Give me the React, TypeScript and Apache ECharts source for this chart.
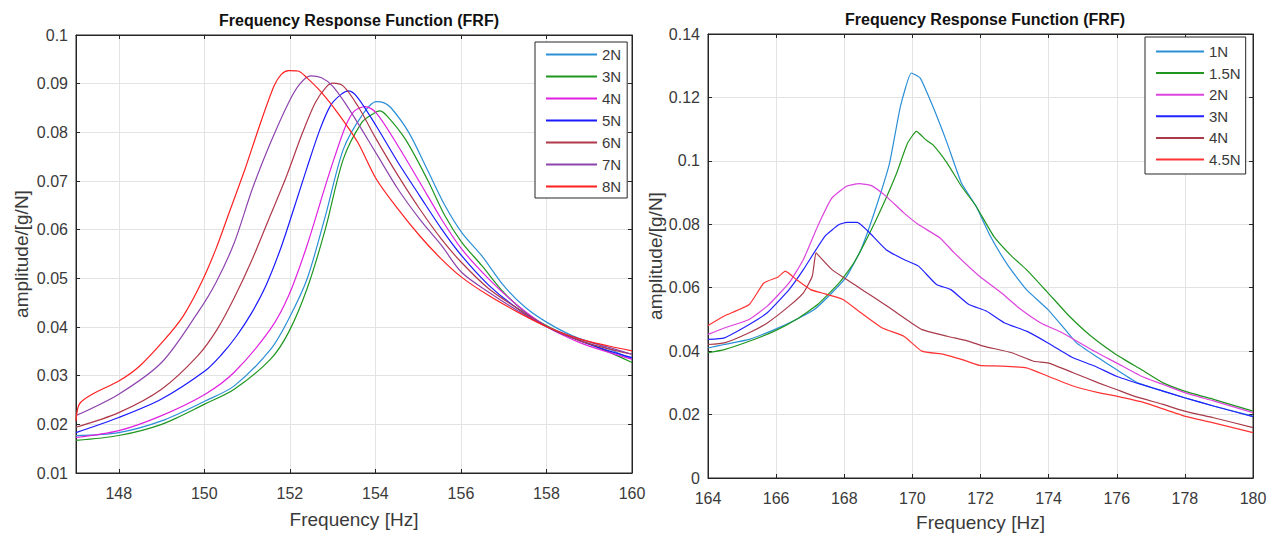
import React, { useEffect, useRef } from "react";
import * as echarts from "echarts";

const FONT = 'Arial, "Liberation Sans", Helvetica, sans-serif';

// ---------- Left plot data (Frequency [Hz], amplitude [g/N]) ----------
const LEFT_NAMES = ["2N", "3N", "4N", "5N", "6N", "7N", "8N"];
const LEFT_COLORS = ["#2b8fd6", "#1f961f", "#e020e0", "#1a1aff", "#b0384a", "#8e44ad", "#ff2020"];
const L_2N = [[147,0.0177],[148,0.0183],[149,0.0207],[150.02,0.0248],[150.7,0.0279],[151.55,0.0354],[151.97,0.0416],[152.4,0.0498],[152.83,0.0628],[153.25,0.0765],[153.68,0.0834],[154.02,0.0863],[154.19,0.0861],[154.36,0.0851],[154.78,0.08],[155.21,0.0724],[155.63,0.0649],[156.02,0.0594],[156.49,0.0546],[157.0,0.0485],[157.51,0.044],[158.02,0.0409],[158.61,0.0382],[159.29,0.0361],[160,0.0334]];
const L_3N = [[147,0.0167],[148,0.0177],[149,0.02],[150.02,0.0242],[150.7,0.0272],[151.55,0.0334],[151.97,0.0389],[152.4,0.0478],[152.83,0.0601],[153.25,0.0745],[153.68,0.082],[153.93,0.0837],[154.1,0.0844],[154.27,0.0834],[154.7,0.0786],[155.21,0.0704],[155.63,0.0628],[156.02,0.0574],[156.49,0.0526],[157.0,0.0471],[157.51,0.043],[158.02,0.0402],[158.61,0.0378],[159.29,0.0355],[160,0.0327]];
const L_4N = [[147,0.0173],[148,0.0187],[149,0.0218],[150.02,0.0262],[150.7,0.0307],[151.55,0.0396],[151.97,0.0464],[152.4,0.0567],[152.83,0.069],[153.05,0.075],[153.3,0.0812],[153.5,0.0843],[153.76,0.0853],[154.02,0.084],[154.53,0.0772],[155.04,0.0697],[155.55,0.0621],[156.02,0.056],[156.66,0.0498],[157.34,0.0443],[158.02,0.04],[158.78,0.0368],[159.46,0.0348],[160,0.0334]];
const L_5N = [[147,0.0183],[148,0.0214],[149,0.0252],[150.02,0.031],[150.4,0.0343],[150.75,0.0381],[151.1,0.0428],[151.45,0.0487],[151.8,0.0565],[152.1,0.0645],[152.4,0.0727],[152.7,0.0805],[152.95,0.0855],[153.2,0.0878],[153.38,0.0885],[153.59,0.0871],[154.02,0.0813],[154.53,0.0738],[155.04,0.0669],[155.55,0.0601],[156.02,0.0546],[156.66,0.0485],[157.34,0.0437],[158.02,0.04],[158.78,0.0372],[159.46,0.0351],[160,0.0337]];
const L_6N = [[147,0.0194],[148,0.0224],[149,0.0272],[149.85,0.0341],[150.3,0.0395],[150.7,0.046],[151.1,0.0535],[151.5,0.062],[151.9,0.0705],[152.3,0.08],[152.6,0.0862],[152.85,0.0893],[153.0,0.0901],[153.25,0.0895],[153.59,0.0854],[154.02,0.0786],[154.53,0.0711],[155.04,0.0642],[155.55,0.058],[156.02,0.0532],[156.66,0.0478],[157.34,0.0437],[158.02,0.04],[158.78,0.0372],[159.46,0.0355],[160,0.0344]];
const L_7N = [[147,0.0218],[148,0.0262],[149,0.0327],[149.85,0.043],[150.27,0.0491],[150.7,0.0573],[151.12,0.0683],[151.55,0.0779],[151.97,0.0861],[152.23,0.0899],[152.49,0.0916],[152.74,0.0912],[153.0,0.0895],[153.34,0.0854],[153.68,0.0806],[154.1,0.0745],[154.53,0.0683],[155.04,0.0621],[155.55,0.0567],[156.02,0.0512],[156.66,0.0471],[157.34,0.0433],[158.02,0.04],[158.78,0.0375],[159.46,0.0358],[160,0.0344]];
const L_8N = [[147,0.0207],[147.08,0.0242],[147.38,0.0262],[148,0.0289],[148.49,0.032],[149.08,0.0375],[149.51,0.0423],[149.93,0.0491],[150.27,0.056],[150.61,0.0642],[150.95,0.0724],[151.29,0.0813],[151.63,0.0895],[151.8,0.0919],[151.97,0.0927],[152.19,0.0926],[152.4,0.0912],[152.74,0.0882],[153.17,0.0834],[153.59,0.0779],[154.02,0.0704],[154.53,0.0642],[155.04,0.0587],[155.55,0.0539],[156.02,0.0502],[156.66,0.0464],[157.34,0.043],[158.02,0.04],[158.78,0.0375],[159.46,0.0361],[160,0.0351]];
const LEFT_DATA = [L_2N, L_3N, L_4N, L_5N, L_6N, L_7N, L_8N];
const LEFT_X_TICKS = [148, 150, 152, 154, 156, 158, 160];

// ---------- Right plot data ----------
const RIGHT_NAMES = ["1N", "1.5N", "2N", "3N", "4N", "4.5N"];
const RIGHT_COLORS = ["#2b8fd6", "#1f961f", "#dd44dd", "#2222ff", "#a83a4a", "#ff3333"];
const R_1N = [[164,0.041],[164.48,0.0421],[165.21,0.0437],[165.95,0.0468],[166.59,0.05],[167.12,0.0531],[167.64,0.0584],[168.07,0.0636],[168.49,0.072],[168.91,0.0846],[169.33,0.0993],[169.65,0.1172],[169.97,0.1277],[170.23,0.1261],[170.6,0.1172],[171.02,0.1056],[171.44,0.093],[171.87,0.0857],[172.29,0.0762],[172.82,0.0668],[173.35,0.0594],[173.98,0.0531],[174.4,0.0479],[174.82,0.0426],[175.46,0.0379],[175.99,0.0342],[176.62,0.03],[177.36,0.0274],[177.99,0.0253],[178.84,0.0227],[180,0.0195]];
const R_15N = [[164,0.0395],[164.48,0.0405],[165.21,0.0431],[165.95,0.0463],[166.59,0.05],[167.22,0.0547],[167.85,0.0615],[168.28,0.0678],[168.7,0.0762],[169.12,0.0857],[169.54,0.0962],[169.86,0.1056],[170.12,0.1093],[170.39,0.1067],[170.6,0.1051],[171.02,0.0993],[171.44,0.092],[171.87,0.0857],[172.39,0.0762],[172.92,0.0699],[173.35,0.0657],[173.98,0.0584],[174.61,0.051],[175.25,0.0447],[175.99,0.0389],[176.72,0.0342],[177.36,0.03],[177.99,0.0274],[178.84,0.0248],[180,0.0211]];
const R_2N = [[164,0.0453],[164.48,0.0473],[165.21,0.05],[165.74,0.0542],[166.38,0.0615],[166.8,0.0689],[167.22,0.0794],[167.64,0.0883],[168.07,0.092],[168.44,0.0928],[168.8,0.0922],[169.23,0.0888],[169.75,0.0836],[170.18,0.0799],[170.81,0.0757],[171.23,0.071],[171.97,0.0636],[172.61,0.0584],[173.13,0.0536],[173.77,0.0489],[174.4,0.0458],[175.25,0.0405],[175.99,0.0363],[176.72,0.0321],[177.36,0.0295],[177.99,0.0269],[178.84,0.0243],[180,0.0206]];
const R_3N = [[164,0.0437],[164.48,0.0442],[165.21,0.0484],[165.74,0.0521],[166.38,0.0594],[166.8,0.0657],[167.43,0.0762],[167.85,0.0799],[168.07,0.0806],[168.38,0.0806],[168.7,0.0778],[169.23,0.072],[169.75,0.0689],[170.18,0.0668],[170.71,0.061],[171.13,0.0594],[171.66,0.0547],[172.18,0.0526],[172.71,0.0489],[173.35,0.0463],[173.98,0.0426],[174.72,0.0379],[175.35,0.0353],[175.99,0.0321],[176.72,0.0295],[177.36,0.0274],[177.99,0.0253],[178.84,0.0227],[180,0.0193]];
const R_4N = [[164,0.0421],[164.48,0.0426],[165.21,0.0458],[165.74,0.0489],[166.38,0.0542],[166.8,0.0584],[167.06,0.0636],[167.17,0.071],[167.27,0.0699],[167.64,0.0657],[168.07,0.0626],[168.59,0.0589],[169.12,0.0552],[169.54,0.0521],[169.97,0.0489],[170.28,0.0468],[171.02,0.0447],[171.66,0.0431],[172.08,0.0416],[172.92,0.0395],[173.56,0.0368],[173.98,0.0363],[174.72,0.0332],[175.46,0.03],[175.99,0.0279],[176.51,0.0258],[177.36,0.0232],[177.99,0.0211],[178.84,0.019],[180,0.0159]];
const R_45N = [[164,0.0481],[164.48,0.0511],[165.21,0.0547],[165.64,0.0615],[166.06,0.0634],[166.27,0.0652],[166.59,0.0626],[167.01,0.0594],[167.33,0.0584],[167.96,0.0563],[168.49,0.0521],[169.12,0.0473],[169.75,0.0447],[170.28,0.04],[170.92,0.039],[171.44,0.0374],[171.97,0.0355],[172.61,0.0353],[173.35,0.0347],[173.98,0.0321],[174.72,0.029],[175.46,0.0269],[175.99,0.0258],[176.83,0.0237],[177.99,0.0195],[178.84,0.0174],[180,0.0143]];
const RIGHT_DATA = [R_1N, R_15N, R_2N, R_3N, R_4N, R_45N];

const TITLE = "Frequency Response Function (FRF)";
const X_NAME = "Frequency [Hz]";
const Y_NAME = "amplitude/[g/N]";

const AXIS_COLOR = "#262626";
const TEXT_COLOR = "#3a3a3a";
const GRID_COLOR = "#e3e3e3";

function fmt(v: number) {
  return String(+Number(v).toFixed(2));
}

export default function App() {
  const ref = useRef<HTMLDivElement>(null);
  useEffect(() => {
    if (!ref.current) return;
    const chart = echarts.init(ref.current, undefined, { renderer: "svg" });

    const labelStyle = { color: TEXT_COLOR, fontSize: 16, fontFamily: FONT };
    const nameStyle = { color: TEXT_COLOR, fontSize: 19, fontFamily: FONT };
    const tick = { inside: true, length: 4, lineStyle: { color: AXIS_COLOR } };
    const line = { show: true, onZero: false, lineStyle: { color: AXIS_COLOR, width: 1 } };
    const split = { show: true, lineStyle: { color: GRID_COLOR, width: 1 } };

    const mkSeries = (prefix: string, names: string[], colors: string[], data: number[][][], axisIdx: number, smooth: number) =>
      names.map((n, i) => ({
        name: prefix + n,
        type: "line",
        xAxisIndex: axisIdx,
        yAxisIndex: axisIdx,
        data: data[i],
        showSymbol: false,
        symbol: "none",
        smooth,
        lineStyle: { color: colors[i], width: 1.2 },
        itemStyle: { color: colors[i] },
        z: 3,
      }));

    const legendBase = {
      orient: "vertical",
      icon: "rect",
      itemHeight: 2,
      borderColor: AXIS_COLOR,
      borderWidth: 1,
      backgroundColor: "#ffffff",
      selectedMode: false,
      textStyle: { color: TEXT_COLOR, fontSize: 15, fontFamily: FONT },
      formatter: (n: string) => n.split(":")[1],
    };

    const titleStyle = { fontSize: 16, fontWeight: "bold", color: "#111", fontFamily: FONT };

    chart.setOption({
      animation: false,
      backgroundColor: "#ffffff",
      title: [
        { text: TITLE, left: 354, top: 7, textAlign: "center", textStyle: titleStyle },
        { text: TITLE, left: 980, top: 6, textAlign: "center", textStyle: titleStyle },
      ],
      legend: [
        { ...legendBase, left: 535, top: 42, itemWidth: 51, itemGap: 7, padding: [5, 6, 4, 11], data: LEFT_NAMES.map((n) => "A:" + n) },
        { ...legendBase, left: 1145, top: 37, itemWidth: 48, itemGap: 6.6, padding: [7, 5, 7, 11], data: RIGHT_NAMES.map((n) => "B:" + n) },
      ],
      grid: [
        { left: 76, top: 35, width: 556, height: 438, show: true, borderColor: AXIS_COLOR, borderWidth: 1, backgroundColor: "transparent" },
        { left: 708, top: 34, width: 545, height: 445, show: true, borderColor: AXIS_COLOR, borderWidth: 1, backgroundColor: "transparent" },
      ],
      xAxis: [
        {
          gridIndex: 0, type: "value", min: 147, max: 160,
          axisLine: line, axisTick: { ...tick, customValues: LEFT_X_TICKS },
          axisLabel: { ...labelStyle, margin: 12, customValues: LEFT_X_TICKS },
          splitLine: split,
          name: X_NAME, nameLocation: "middle", nameGap: 37, nameTextStyle: nameStyle,
        },
        {
          gridIndex: 0, type: "value", position: "top", min: 147, max: 160,
          axisLine: line, axisTick: { ...tick, customValues: LEFT_X_TICKS },
          axisLabel: { show: false }, splitLine: { show: false },
        },
        {
          gridIndex: 1, type: "value", min: 164, max: 180, interval: 2,
          axisLine: line, axisTick: tick,
          axisLabel: { ...labelStyle, margin: 12 },
          splitLine: split,
          name: X_NAME, nameLocation: "middle", nameGap: 35, nameTextStyle: nameStyle,
        },
        {
          gridIndex: 1, type: "value", position: "top", min: 164, max: 180, interval: 2,
          axisLine: line, axisTick: tick, axisLabel: { show: false }, splitLine: { show: false },
        },
      ],
      yAxis: [
        {
          gridIndex: 0, type: "value", min: 0.01, max: 0.1, interval: 0.01,
          axisLine: line, axisTick: tick,
          axisLabel: { ...labelStyle, margin: 8, formatter: fmt },
          splitLine: split,
          name: Y_NAME, nameLocation: "middle", nameGap: 45, nameTextStyle: nameStyle,
        },
        {
          gridIndex: 0, type: "value", position: "right", min: 0.01, max: 0.1, interval: 0.01,
          axisLine: line, axisTick: tick, axisLabel: { show: false }, splitLine: { show: false },
        },
        {
          gridIndex: 1, type: "value", min: 0, max: 0.14, interval: 0.02,
          axisLine: line, axisTick: tick,
          axisLabel: { ...labelStyle, margin: 8, formatter: fmt },
          splitLine: split,
          name: Y_NAME, nameLocation: "middle", nameGap: 43, nameTextStyle: nameStyle,
        },
        {
          gridIndex: 1, type: "value", position: "right", min: 0, max: 0.14, interval: 0.02,
          axisLine: line, axisTick: tick, axisLabel: { show: false }, splitLine: { show: false },
        },
      ],
      series: [
        ...mkSeries("A:", LEFT_NAMES, LEFT_COLORS, LEFT_DATA, 0, 0.3),
        ...mkSeries("B:", RIGHT_NAMES, RIGHT_COLORS, RIGHT_DATA, 2, 0.15),
      ],
    });
    return () => chart.dispose();
  }, []);

  return (
    <div
      ref={ref}
      style={{ position: "absolute", left: 0, top: 0, width: 1279, height: 537, background: "#fff" }}
    />
  );
}
